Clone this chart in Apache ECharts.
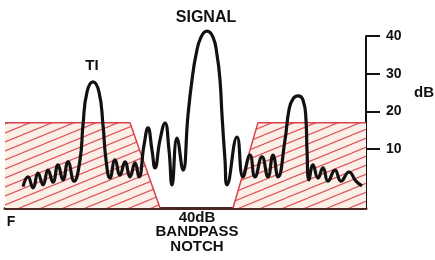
<!doctype html>
<html lang="en">

<head>
    <meta charset="utf-8">
    <title>Bandpass notch</title>
    <script src="https://cdn.jsdelivr.net/npm/echarts@6/dist/echarts.min.js"></script>
    <style>
        html, body { margin: 0; padding: 0; background: #fff; }
        #chart { width: 435px; height: 260px; }
    </style>
</head>

<body>
    <div id="chart"></div>
    <script type="text/javascript">
        // spectrum trace: frequency (arbitrary units) and level in dB
        var freq = [18, 23, 28, 33, 38, 43, 48, 53, 58, 63, 69, 75, 78, 82, 88, 94, 98, 101, 105,
            110, 115, 120, 125, 130, 134, 139, 143, 147, 150, 155, 160, 164, 167, 172, 178,
            183, 187, 191, 196, 202, 208, 212, 215, 217, 220, 222,
            232, 238, 245, 250, 257, 263, 268, 273, 280, 284, 288, 293, 298, 301, 302, 304,
            308, 313, 318, 323, 330, 336, 344, 351, 357];
        var level = [0, 2.6, -0.3, 3.6, 0.5, 4.4, 1.2, 5.8, 1.8, 6.6, 1.5, 7.1, 16.4, 25.1, 27.8, 25.1, 16.4, 7.1, 2.3,
            7.1, 3.1, 6.6, 2.6, 6.3, 2.6, 11, 15.6, 9.7, 5.0, 12.4, 16.9, 9.7, 0.5, 12.9, 4.4,
            19.0, 28.3, 35.0, 39.7, 41.3, 39.7, 35.0, 28.3, 19.0, 7.1, 0.5,
            13.2, 2.6, 8.4, 2.6, 7.9, 2.6, 8.4, 2.6, 12.4, 20.4, 23.3, 24.1, 23.0, 17.7, 9.7, 1.8,
            5.8, 2.3, 5.0, 1.5, 4.4, 1.5, 3.9, 1.5, 0.2];

        // notch filter outline (dB), left and right skirts
        var notchLeftX = [0, 125, 155];
        var notchLeftY = [17, 17, -5.65];
        var notchRightX = [228, 253, 361];
        var notchRightY = [-5.65, 17, 17];

        var dbTicks = [10, 20, 30, 40];

        function pairs(xs, ys) {
            return xs.map(function (x, i) { return [x, ys[i]]; });
        }

        function hatch() {
            var c = document.createElement('canvas');
            c.width = 22; c.height = 9;
            var ctx = c.getContext('2d');
            ctx.fillStyle = '#fcefe8';
            ctx.fillRect(0, 0, 22, 9);
            ctx.strokeStyle = 'rgba(214,50,60,0.8)';
            ctx.lineWidth = 1.2;
            for (var k = -1; k <= 1; k++) {
                ctx.beginPath();
                ctx.moveTo(0, 9 + k * 9);
                ctx.lineTo(22, k * 9);
                ctx.stroke();
            }
            return c;
        }
        var hatchFill = { image: hatch(), repeat: 'repeat' };

        var font = '"Liberation Sans", Arial, sans-serif';
        var chart = echarts.init(document.getElementById('chart'));
        var option = {
            animation: false,
            grid: { left: 5, right: 69, top: 36, bottom: 52, outerBoundsMode: 'none' },
            xAxis: {
                type: 'value', min: 0, max: 361,
                axisLine: { show: true, onZero: false, lineStyle: { color: '#4b2424', width: 3 } },
                axisTick: { show: false }, axisLabel: { show: false }, splitLine: { show: false }
            },
            yAxis: {
                type: 'value', position: 'right', min: -5.65, max: 40,
                axisLine: { show: true, onZero: false, lineStyle: { color: '#111', width: 2 } },
                axisTick: { show: true, inside: false, length: 14, customValues: dbTicks,
                    lineStyle: { color: '#111', width: 2 } },
                axisLabel: { show: true, customValues: dbTicks, margin: 20, color: '#111',
                    fontFamily: font, fontWeight: 'bold', fontSize: 14 },
                splitLine: { show: false }
            },
            graphic: [
                { type: 'text', x: 206, y: 18, style: { text: 'SIGNAL', font: 'bold 16px ' + font, fill: '#111', align: 'center', verticalAlign: 'middle' } },
                { type: 'text', x: 92, y: 66, style: { text: 'TI', font: 'bold 15px ' + font, fill: '#111', align: 'center', verticalAlign: 'middle' } },
                { type: 'text', x: 424, y: 93, style: { text: 'dB', font: 'bold 15px ' + font, fill: '#111', align: 'center', verticalAlign: 'middle' } },
                { type: 'text', x: 11, y: 222, style: { text: 'F', font: 'bold 14px ' + font, fill: '#111', align: 'center', verticalAlign: 'middle' } },
                { type: 'text', x: 197, y: 232, style: { text: '40dB\nBANDPASS\nNOTCH', font: 'bold 15px ' + font, lineHeight: 14.5, fill: '#111', align: 'center', verticalAlign: 'middle' } }
            ],
            series: [{
                type: 'line', data: pairs(notchLeftX, notchLeftY), symbol: 'none', z: 1,
                lineStyle: { color: '#d9414b', width: 1.5 },
                areaStyle: { color: hatchFill, origin: 'start', opacity: 1 }
            }, {
                type: 'line', data: pairs(notchRightX, notchRightY), symbol: 'none', z: 1,
                lineStyle: { color: '#d9414b', width: 1.5 },
                areaStyle: { color: hatchFill, origin: 'start', opacity: 1 }
            }, {
                type: 'line', data: pairs(freq, level), symbol: 'none', smooth: 0.5, clip: false, z: 3,
                lineStyle: { color: '#111', width: 3.2, join: 'round' }
            }]
        };
        chart.setOption(option);
    </script>
</body>

</html>
